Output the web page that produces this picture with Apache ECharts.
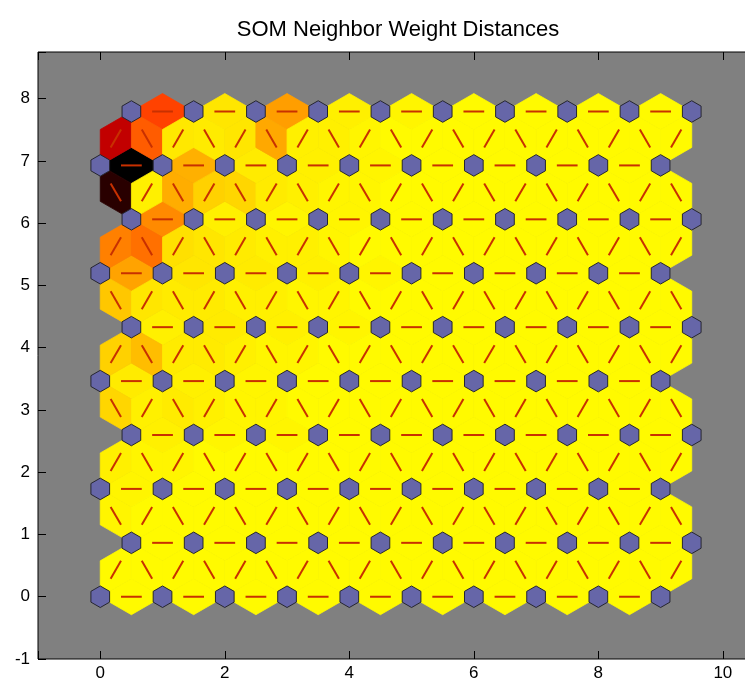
<!DOCTYPE html>
<html>
<head>
<meta charset="utf-8">
<script src="https://cdn.jsdelivr.net/npm/echarts@6/dist/echarts.min.js"></script>
<style>
html,body{margin:0;padding:0;background:#ffffff;}
#chart{width:745px;height:686px;}
</style>
</head>
<body>
<div id="chart"></div>
<script>
// ---- chart text and axes ----
const chartTitle = 'SOM Neighbor Weight Distances';
const xTickLabels = [0, 2, 4, 6, 8, 10];
const yTickLabels = [-1, 0, 1, 2, 3, 4, 5, 6, 7, 8];

// ---- SOM topology: 10 x 10 hexagonal grid ----
const somRows = 10;
const somCols = 10;

// ---- normalized neighbor weight distances (0 = smallest, 1 = largest) ----
// horizontal neighbor pairs, one list per row (bottom row first), left to right
const horizontalEdges = [
  [0.01, 0.01, 0.01, 0.01, 0.01, 0.01, 0.01, 0.01, 0.01],
  [0.01, 0.01, 0.01, 0.01, 0.01, 0.01, 0.01, 0.01, 0.01],
  [0.02, 0.01, 0.01, 0.01, 0.01, 0.01, 0.01, 0.01, 0.01],
  [0.03, 0.02, 0.02, 0.01, 0.01, 0.01, 0.01, 0.01, 0.01],
  [0.04, 0.03, 0.02, 0.01, 0.01, 0.01, 0.01, 0.01, 0.01],
  [0.03, 0.04, 0.03, 0.02, 0.01, 0.01, 0.01, 0.01, 0.01],
  [0.18, 0.05, 0.04, 0.03, 0.02, 0.01, 0.01, 0.01, 0.01],
  [0.23, 0.03, 0.02, 0.02, 0.01, 0.01, 0.01, 0.01, 0.01],
  [1.00, 0.155, 0.04, 0.03, 0.02, 0.01, 0.01, 0.01, 0.01],
  [0.37, 0.05, 0.19, 0.03, 0.02, 0.01, 0.01, 0.01, 0.01]
];
// diagonal neighbor pairs between row r and row r+1, left to right
const diagonalEdges = [
  [0.01, 0.01, 0.01, 0.01, 0.01, 0.01, 0.01, 0.01, 0.01, 0.01, 0.01, 0.01, 0.01, 0.01, 0.01, 0.01, 0.01, 0.01, 0.01],
  [0.02, 0.01, 0.01, 0.01, 0.01, 0.01, 0.01, 0.01, 0.01, 0.01, 0.01, 0.01, 0.01, 0.01, 0.01, 0.01, 0.01, 0.01, 0.01],
  [0.03, 0.02, 0.02, 0.01, 0.01, 0.01, 0.01, 0.01, 0.01, 0.01, 0.01, 0.01, 0.01, 0.01, 0.01, 0.01, 0.01, 0.01, 0.01],
  [0.08, 0.03, 0.04, 0.03, 0.02, 0.02, 0.01, 0.01, 0.01, 0.01, 0.01, 0.01, 0.01, 0.01, 0.01, 0.01, 0.01, 0.01, 0.01],
  [0.09, 0.13, 0.04, 0.04, 0.03, 0.02, 0.02, 0.01, 0.01, 0.01, 0.01, 0.01, 0.01, 0.01, 0.01, 0.01, 0.01, 0.01, 0.01],
  [0.11, 0.05, 0.04, 0.04, 0.03, 0.03, 0.02, 0.02, 0.01, 0.01, 0.01, 0.01, 0.01, 0.01, 0.01, 0.01, 0.01, 0.01, 0.01],
  [0.25, 0.28, 0.06, 0.05, 0.04, 0.03, 0.03, 0.02, 0.01, 0.01, 0.01, 0.01, 0.01, 0.01, 0.01, 0.01, 0.01, 0.01, 0.01],
  [0.92, 0.03, 0.16, 0.09, 0.08, 0.04, 0.03, 0.02, 0.02, 0.01, 0.01, 0.01, 0.01, 0.01, 0.01, 0.01, 0.01, 0.01, 0.01],
  [0.62, 0.32, 0.045, 0.04, 0.05, 0.17, 0.03, 0.03, 0.02, 0.01, 0.01, 0.01, 0.01, 0.01, 0.01, 0.01, 0.01, 0.01, 0.01]
];

// ---- build neurons and neighbor pairs from the hex topology ----
const ROW_H = Math.sqrt(3) / 2;
function neuronPos(r, c) { return [c + (r % 2) * 0.5, r * ROW_H]; }

const neurons = [];
for (let r = 0; r < somRows; r++) {
  for (let c = 0; c < somCols; c++) neurons.push(neuronPos(r, c));
}

const edges = [];
for (let r = 0; r < somRows; r++) {
  for (let c = 0; c < somCols - 1; c++) {
    const a = neuronPos(r, c), b = neuronPos(r, c + 1);
    edges.push([a[0], a[1], b[0], b[1], horizontalEdges[r][c]]);
  }
}
for (let r = 0; r < somRows - 1; r++) {
  for (let k = 0; k < 2 * somCols - 1; k++) {
    let lc, uc;
    if (r % 2 === 0) {
      if (k % 2 === 0) { lc = k / 2; uc = k / 2; } else { lc = (k + 1) / 2; uc = (k - 1) / 2; }
    } else {
      if (k % 2 === 0) { lc = k / 2; uc = k / 2; } else { lc = (k - 1) / 2; uc = (k + 1) / 2; }
    }
    const a = neuronPos(r, lc), b = neuronPos(r + 1, uc);
    edges.push([a[0], a[1], b[0], b[1], diagonalEdges[r][k]]);
  }
}

// ---- renderers ----
const HALF_T = 1 / (2 * Math.sqrt(3));
function renderPatch(params, api) {
  const ax = api.value(0), ay = api.value(1), bx = api.value(2), by = api.value(3);
  const mx = (ax + bx) / 2, my = (ay + by) / 2;
  const dx = bx - ax, dy = by - ay;
  const pts = [[ax, ay], [mx - dy * HALF_T, my + dx * HALF_T], [bx, by], [mx + dy * HALF_T, my - dx * HALF_T]]
    .map(p => api.coord(p));
  const color = api.visual('color');
  return { type: 'polygon', shape: { points: pts }, style: { fill: color, stroke: color, lineWidth: 0.8 } };
}
function renderLink(params, api) {
  const ax = api.value(0), ay = api.value(1), bx = api.value(2), by = api.value(3);
  const p1 = api.coord([ax + (bx - ax) / 3, ay + (by - ay) / 3]);
  const p2 = api.coord([ax + 2 * (bx - ax) / 3, ay + 2 * (by - ay) / 3]);
  return { type: 'line', shape: { x1: p1[0], y1: p1[1], x2: p2[0], y2: p2[1] },
           style: { stroke: '#c83000', lineWidth: 2 } };
}
const NEURON_SCALE = 0.3;
const hexShape = [[-0.5, HALF_T], [0, 2 * HALF_T], [0.5, HALF_T], [0.5, -HALF_T], [0, -2 * HALF_T], [-0.5, -HALF_T]];
function renderNeuron(params, api) {
  const x = api.value(0), y = api.value(1);
  const pts = hexShape.map(p => api.coord([x + p[0] * NEURON_SCALE, y + p[1] * NEURON_SCALE]));
  return { type: 'polygon', shape: { points: pts }, style: { fill: '#6666a8', stroke: '#262630', lineWidth: 1 } };
}

const FONT = "'Liberation Sans', Arial, sans-serif";
const tickStyle = { inside: true, length: 8, lineStyle: { color: '#000' } };
const chart = echarts.init(document.getElementById('chart'));
chart.setOption({
  animation: false,
  backgroundColor: '#ffffff',
  title: {
    text: chartTitle, left: 398, top: 19, textAlign: 'center', padding: 0,
    textStyle: { fontFamily: FONT, fontSize: 22, fontWeight: 'normal', color: '#000' }
  },
  grid: { left: 38, top: 52, width: 716, height: 607, show: true, outerBoundsMode: 'none',
          backgroundColor: '#808080', borderColor: '#000', borderWidth: 1 },
  visualMap: { show: false, type: 'continuous', min: 0, max: 1, dimension: 4, seriesIndex: 0,
               inRange: { color: ['#ffff00', '#ff0000', '#000000'] } },
  xAxis: [
    { type: 'value', min: -1, max: 10.5, position: 'bottom',
      axisLine: { show: false, onZero: false }, splitLine: { show: false },
      axisTick: tickStyle,
      axisLabel: { margin: 6, color: '#000', fontFamily: FONT, fontSize: 17,
        formatter: v => (xTickLabels.indexOf(v) >= 0 ? String(v) : '') } },
    { type: 'value', min: -1, max: 10.5, position: 'top',
      axisLine: { show: false, onZero: false }, splitLine: { show: false },
      axisTick: tickStyle, axisLabel: { show: false } }
  ],
  yAxis: [
    { type: 'value', min: -1, max: 8.75, interval: 1, position: 'left',
      axisLine: { show: false, onZero: false }, splitLine: { show: false },
      axisTick: tickStyle,
      axisLabel: { margin: 8, color: '#000', fontFamily: FONT, fontSize: 17,
        formatter: v => (yTickLabels.indexOf(v) >= 0 ? String(v) : '') } }
  ],
  series: [
    { type: 'custom', name: 'distances', coordinateSystem: 'cartesian2d', renderItem: renderPatch,
      encode: { x: [0, 2], y: [1, 3] }, data: edges, silent: true, z: 1 },
    { type: 'custom', name: 'links', coordinateSystem: 'cartesian2d', renderItem: renderLink,
      encode: { x: [0, 2], y: [1, 3] }, data: edges, silent: true, z: 2 },
    { type: 'custom', name: 'neurons', coordinateSystem: 'cartesian2d', renderItem: renderNeuron,
      encode: { x: 0, y: 1 }, data: neurons, silent: true, z: 3 }
  ]
});
</script>
</body>
</html>
